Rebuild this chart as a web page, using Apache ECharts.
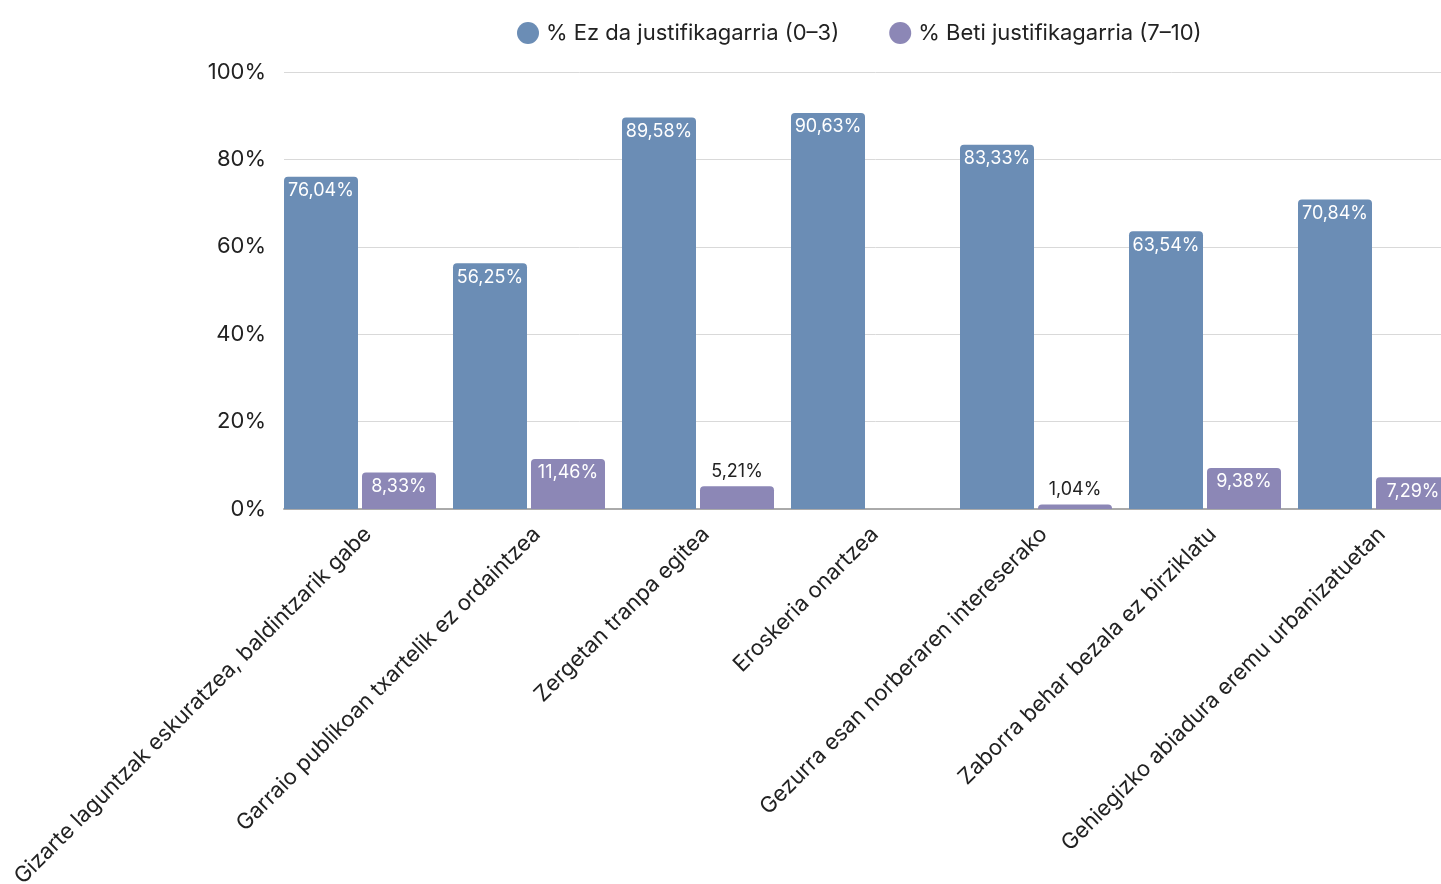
<!DOCTYPE html>
<html><head><meta charset="utf-8">
<script src="https://cdn.jsdelivr.net/npm/echarts@6/dist/echarts.min.js"></script>
<style>html,body{margin:0;padding:0;background:#fff;overflow:hidden}#c{width:1467px;height:884px}</style>
</head><body><div id="c"></div>
<script>
const categories = [
  "Gizarte laguntzak eskuratzea, baldintzarik gabe",
  "Garraio publikoan txartelik ez ordaintzea",
  "Zergetan tranpa egitea",
  "Eroskeria onartzea",
  "Gezurra esan norberaren intereserako",
  "Zaborra behar bezala ez birziklatu",
  "Gehiegizko abiadura eremu urbanizatuetan"
];
const seriesNames = ["% Ez da justifikagarria (0–3)", "% Beti justifikagarria (7–10)"];
const notJustifiable = [76.04, 56.25, 89.58, 90.63, 83.33, 63.54, 70.84];
const alwaysJustifiable = [8.33, 11.46, 5.21, 0, 1.04, 9.38, 7.29];
const yTicks = [0, 20, 40, 60, 80, 100];

const FONT = "Inter";
const fmt = v => v.toFixed(2).replace('.', ',') + '%';

const purpleData = alwaysJustifiable.map(v => {
  if (v === 0) return { value: v, label: { show: false } };
  if (v >= 7) return { value: v, label: { show: true, position: 'insideTop', color: '#fff', distance: 5 } };
  return { value: v, label: { show: true, position: 'top', color: '#222', distance: 6 } };
});

const chart = echarts.init(document.getElementById('c'));
chart.setOption({
  animation: false,
  textStyle: { fontFamily: FONT },
  legend: {
    top: 17, left: 512,
    itemWidth: 22, itemHeight: 22, itemGap: 50,
    icon: 'circle',
    textStyle: { fontSize: 22, color: '#222', fontFamily: FONT, padding: [0, 0, 0, 2] },
    data: seriesNames
  },
  grid: [
    { left: 284, top: 72, right: 0, bottom: 375, outerBoundsMode: 'none', containLabel: false },
    { left: 275.5, top: 72, right: 8.5, bottom: 375, outerBoundsMode: 'none', containLabel: false }
  ],
  xAxis: [
    { gridIndex: 0, type: 'category', data: categories, show: true,
      axisLine: { show: true, lineStyle: { color: '#aaa', width: 2 } },
      axisTick: { show: false }, axisLabel: { show: false } },
    { gridIndex: 1, type: 'category', data: categories,
      axisLine: { show: false }, axisTick: { show: false },
      axisLabel: { rotate: 45, margin: 14, fontSize: 22, color: '#222', fontFamily: FONT, interval: 0, verticalAlign: 'top' } }
  ],
  yAxis: [
    { gridIndex: 0, type: 'value', min: 0, max: 100, interval: 20,
      axisLine: { show: false }, axisTick: { show: false },
      splitLine: { lineStyle: { color: '#d9d9d9', width: 1 } },
      axisLabel: { formatter: v => v + '%', fontSize: 22, color: '#222', margin: 18, fontFamily: FONT, padding: [4, 0, 0, 0] } },
    { gridIndex: 1, type: 'value', min: 0, max: 100, show: false, splitLine: { show: false } }
  ],
  series: [
    { name: seriesNames[0], type: 'bar', xAxisIndex: 1, yAxisIndex: 1,
      data: notJustifiable, barWidth: 74, barGap: '5.4%',
      itemStyle: { color: '#6b8db5', borderRadius: [4, 4, 0, 0] },
      label: { show: true, position: 'insideTop', distance: 5, color: '#fff', fontSize: 18, fontFamily: FONT, formatter: p => fmt(p.value) } },
    { name: seriesNames[1], type: 'bar', xAxisIndex: 1, yAxisIndex: 1,
      data: purpleData, barWidth: 74, barGap: '5.4%',
      itemStyle: { color: '#8c87b6', borderRadius: [4, 4, 0, 0] },
      label: { fontSize: 18, fontFamily: FONT, formatter: p => fmt(p.value) } }
  ]
});
</script></body></html>
